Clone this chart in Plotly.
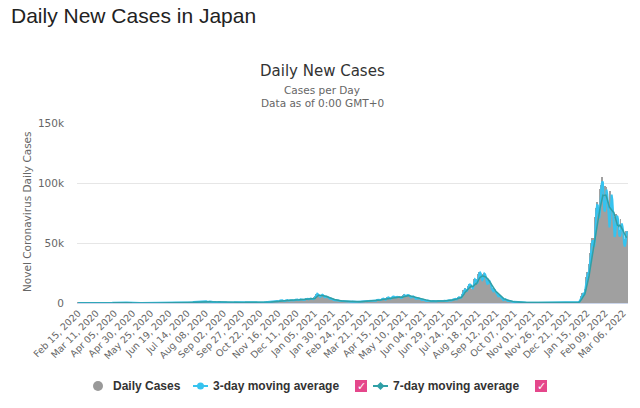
import pandas as pd
import plotly.graph_objects as go

# ---------------- data ----------------
start_date = "2020-02-15"
daily_cases = [
    # 2020 (weeks start on Saturday)
    6, 2, 7, 14, 7, 11, 12,
    27, 12, 2, 14, 20, 24, 27,
    9, 15, 14, 18, 33, 37, 59,
    47, 33, 30, 26, 52, 54, 41,
    64, 35, 15, 45, 44, 39, 35,
    53, 43, 38, 65, 94, 96, 123,
    200, 173, 87, 220, 266, 235, 351,
    367, 340, 250, 350, 515, 576, 708,
    720, 560, 390, 450, 549, 590, 585,
    570, 440, 370, 373, 390, 422, 440,
    340, 200, 189, 174, 236, 203, 167,
    280, 200, 120, 87, 110, 110, 84,
    110, 60, 50, 80, 60, 60, 55,
    30, 20, 20, 40, 30, 30, 30,
    26, 16, 20, 35, 35, 64, 40,
    50, 40, 40, 50, 40, 40, 40,
    40, 30, 20, 40, 40, 50, 40,
    50, 70, 40, 40, 40, 70, 60,
    50, 60, 60, 50, 80, 90, 100,
    100, 90, 80, 120, 110, 190, 250,
    270, 210, 150, 200, 210, 350, 430,
    390, 410, 260, 330, 450, 620, 590,
    660, 510, 420, 630, 800, 980, 770,
    840, 820, 600, 980, 1260, 1300, 1580,
    1540, 1330, 960, 1240, 1360, 1480, 1600,
    1560, 1440, 810, 820, 970, 1180, 1360,
    1230, 1040, 640, 890, 1070, 1030, 1020,
    850, 750, 500, 630, 890, 880, 850,
    750, 580, 440, 590, 670, 590, 630,
    570, 460, 280, 420, 510, 650, 650,
    580, 440, 270, 540, 600, 580, 590,
    600, 430, 290, 220, 290, 480, 520,
    600, 480, 300, 510, 580, 630, 560,
    580, 390, 270, 450, 610, 630, 680,
    620, 460, 280, 440, 610, 620, 630,
    600, 420, 300, 470, 600, 620, 720,
    740, 500, 460, 520, 700, 760, 800,
    870, 630, 480, 640, 950, 1050, 1140,
    1330, 1150, 1000, 1270, 1550, 1660, 1700,
    1730, 1440, 950, 1700, 2200, 2390, 2420,
    2500, 2100, 1500, 1230, 1950, 2500, 2500,
    2670, 2030, 1430, 2020, 2430, 2500, 2440,
    2500, 2060, 1500, 2300, 2800, 2800, 2990,
    3040, 2400, 1680, 2990, 3210, 3200, 2990,
    2990, 2500, 2000, 2850, 3260, 3700, 3800,
    3870, 2950, 2400, 3600, 4500, 3100, 3100,
    # 2021
    3100, 3100, 3300, 4900, 6000, 7500, 7900,
    7800, 6100, 4900, 4500, 5900, 6600, 7000,
    7000, 5700, 3900, 4900, 5600, 5500, 5000,
    4700, 3900, 2400, 3800, 3900, 3500, 3300,
    3100, 2600, 1800, 2300, 2600, 2600, 2300,
    2300, 1800, 1200, 1600, 1500, 1900, 1700,
    1300, 1500, 1000, 1000, 1500, 1300, 1300,
    1300, 1200, 800, 900, 1300, 1100, 1100,
    1000, 700, 1000, 1200, 1000, 1100, 1100,
    1100, 1100, 600, 1100, 1300, 1300, 1300,
    1300, 1000, 800, 1100, 1500, 1600, 1500,
    1500, 1100, 800, 1500, 1900, 2000, 2000,
    2000, 1800, 1100, 2000, 2600, 2800, 2800,
    2700, 2500, 1600, 2700, 3400, 3500, 3700,
    3700, 2800, 1900, 3400, 4300, 4600, 4500,
    4800, 3100, 2900, 4300, 5300, 5200, 5100,
    5600, 4600, 3300, 4900, 5800, 4700, 4700,
    5900, 4300, 4000, 4000, 4400, 6000, 6700,
    7200, 6000, 4900, 6100, 7000, 7000, 6300,
    6400, 5200, 3700, 4800, 5700, 5700, 5300,
    4700, 3800, 2600, 3800, 4000, 4100, 3700,
    3500, 2700, 1800, 2600, 3000, 2800, 2400,
    2400, 2000, 1200, 1700, 2300, 2000, 2000,
    1900, 1400, 1000, 1400, 1700, 1700, 1600,
    1600, 1300, 800, 1400, 1800, 1700, 1700,
    1700, 1500, 900, 1600, 1800, 1800, 1800,
    1900, 1700, 1000, 1700, 2200, 2300, 2200,
    2500, 2000, 1500, 2400, 3200, 3400, 3400,
    3900, 2900, 2300, 3700, 5000, 5400, 4200,
    4000, 4700, 4700, 7600, 9500, 10700, 10700,
    12300, 10100, 8400, 12000, 14200, 15200, 15700,
    15700, 14400, 12000, 9900, 13000, 18800, 20300,
    20100, 17400, 11400, 19900, 23900, 25000, 25900,
    25400, 22000, 13600, 21600, 24300, 24900, 24100,
    22700, 19200, 11000, 17500, 20000, 18300, 16800,
    16100, 12400, 7200, 10300, 12400, 10400, 9800,
    9400, 7200, 4200, 6000, 6800, 5700, 5100,
    4800, 3700, 2600, 1900, 2600, 3700, 3100,
    2600, 2000, 1100, 1700, 2000, 1600, 1400,
    1400, 1100, 600, 800, 1100, 900, 800,
    800, 600, 400, 400, 600, 600, 500,
    500, 400, 200, 400, 400, 400, 300,
    300, 300, 150, 300, 300, 300, 250,
    250, 200, 90, 200, 150, 200, 200,
    200, 160, 100, 150, 180, 200, 190,
    190, 130, 80, 110, 170, 150, 140,
    160, 110, 50, 80, 110, 80, 120,
    140, 110, 70, 110, 120, 130, 140,
    140, 110, 70, 100, 150, 150, 130,
    150, 140, 90, 150, 170, 180, 180,
    200, 190, 150, 180, 250, 260, 270,
    290, 240, 200, 380, 500, 430, 470,
    # 2022
    530, 550, 780, 1150, 2630, 4470, 6200,
    8470, 8250, 6440, 6380, 11380, 18860, 21900,
    25740, 25690, 22000, 32200, 41500, 46200, 49850,
    54570, 52600, 34000, 54000, 71600, 78900, 81800,
    84200, 78000, 55000, 79000, 94800, 98000, 100500,
    105000, 96400, 54000, 79000, 97800, 96700, 89000,
    86000, 75000, 47000, 67000, 93000, 90000, 88000,
    80000, 66000, 45000, 54000, 72000, 74000, 72000,
    70000, 66000, 39000, 61000, 70000, 66000, 63000,
    62000, 53000, 35000, 53000, 60000, 59000, 60000,
]

tick_dates = [
    "2020-02-15", "2020-03-11", "2020-04-05", "2020-04-30", "2020-05-25",
    "2020-06-19", "2020-07-14", "2020-08-08", "2020-09-02", "2020-09-27",
    "2020-10-22", "2020-11-16", "2020-12-11", "2021-01-05", "2021-01-30",
    "2021-02-24", "2021-03-21", "2021-04-15", "2021-05-10", "2021-06-04",
    "2021-06-29", "2021-07-24", "2021-08-18", "2021-09-12", "2021-10-07",
    "2021-11-01", "2021-11-26", "2021-12-21", "2022-01-15", "2022-02-09",
    "2022-03-06",
]
tick_labels = [
    "Feb 15, 2020", "Mar 11, 2020", "Apr 05, 2020", "Apr 30, 2020", "May 25, 2020",
    "Jun 19, 2020", "Jul 14, 2020", "Aug 08, 2020", "Sep 02, 2020", "Sep 27, 2020",
    "Oct 22, 2020", "Nov 16, 2020", "Dec 11, 2020", "Jan 05, 2021", "Jan 30, 2021",
    "Feb 24, 2021", "Mar 21, 2021", "Apr 15, 2021", "May 10, 2021", "Jun 04, 2021",
    "Jun 29, 2021", "Jul 24, 2021", "Aug 18, 2021", "Sep 12, 2021", "Oct 07, 2021",
    "Nov 01, 2021", "Nov 26, 2021", "Dec 21, 2021", "Jan 15, 2022", "Feb 09, 2022",
    "Mar 06, 2022",
]
y_tick_vals = [0, 50000, 100000, 150000]
y_tick_text = ["0", "50k", "100k", "150k"]

# ---------------- derived series ----------------
dates = pd.date_range(start_date, periods=len(daily_cases), freq="D")
s = pd.Series(daily_cases, index=dates, dtype=float)
ma3 = s.rolling(3, min_periods=1).mean()
ma7 = s.rolling(7, min_periods=1).mean()

C_BAR = "#a0a0a0"
C_MA3 = "#36c3ef"
C_MA7 = "#2f9fa6"
C_PINK = "#e5478b"

fig = go.Figure()
fig.add_trace(go.Bar(x=dates, y=s.values, marker=dict(color=C_BAR, line=dict(width=0)),
                     name="Daily Cases", showlegend=False))
fig.add_trace(go.Scatter(x=dates, y=ma3.values, mode="lines", line=dict(color=C_MA3, width=2),
                         name="3-day moving average", showlegend=False))
fig.add_trace(go.Scatter(x=dates, y=ma7.values, mode="lines", line=dict(color=C_MA7, width=1.5),
                         name="7-day moving average", showlegend=False))

# page coordinates of the plot area
W, H = 640, 408
L, R, T, B = 77, 628, 123, 303


def px(x):
    return (x - L) / (R - L)


def py(y):
    return (B - y) / (B - T)


shapes = []
annotations = []

# top page title
annotations.append(dict(text="Daily New Cases in Japan", xref="paper", yref="paper",
                        x=px(9), y=py(16), xanchor="left", yanchor="middle", showarrow=False,
                        font=dict(family="Liberation Sans, Arial", size=21, color="#222")))
# chart title / subtitles
annotations.append(dict(text="Daily New Cases", xref="paper", yref="paper",
                        x=px(322), y=py(71), xanchor="center", yanchor="middle", showarrow=False,
                        font=dict(family="DejaVu Sans", size=15, color="#333")))
annotations.append(dict(text="Cases per Day", xref="paper", yref="paper",
                        x=px(322), y=py(90), xanchor="center", yanchor="middle", showarrow=False,
                        font=dict(family="DejaVu Sans", size=10.5, color="#666")))
annotations.append(dict(text="Data as of 0:00 GMT+0", xref="paper", yref="paper",
                        x=px(322), y=py(103), xanchor="center", yanchor="middle", showarrow=False,
                        font=dict(family="DejaVu Sans", size=10.5, color="#666")))
# y-axis title
annotations.append(dict(text="Novel Coronavirus Daily Cases", xref="paper", yref="paper",
                        x=px(27), y=py(212), xanchor="center", yanchor="middle", showarrow=False,
                        textangle=-90,
                        font=dict(family="DejaVu Sans", size=10.5, color="#666")))

# ---------- legend (drawn) ----------
LY = 386
legend_font = dict(family="Liberation Sans, Arial", size=12, color="#333", weight="bold")
# Daily cases: grey circle
shapes.append(dict(type="circle", xref="paper", yref="paper",
                   x0=px(93), x1=px(103), y0=py(LY + 5), y1=py(LY - 5),
                   fillcolor="#999999", line=dict(width=0)))
annotations.append(dict(text="Daily Cases", xref="paper", yref="paper", x=px(111), y=py(LY),
                        xanchor="left", yanchor="middle", showarrow=False, font=legend_font))
# 3-day
shapes.append(dict(type="line", xref="paper", yref="paper", x0=px(193), x1=px(208),
                   y0=py(LY), y1=py(LY), line=dict(color=C_MA3, width=2)))
shapes.append(dict(type="circle", xref="paper", yref="paper",
                   x0=px(197), x1=px(204), y0=py(LY + 3.5), y1=py(LY - 3.5),
                   fillcolor=C_MA3, line=dict(width=0)))
annotations.append(dict(text="3-day moving average", xref="paper", yref="paper", x=px(211), y=py(LY),
                        xanchor="left", yanchor="middle", showarrow=False, font=legend_font))
# 7-day
shapes.append(dict(type="line", xref="paper", yref="paper", x0=px(373), x1=px(388),
                   y0=py(LY), y1=py(LY), line=dict(color=C_MA7, width=2)))
cx = 380.5
shapes.append(dict(type="path", xref="paper", yref="paper",
                   path=f"M {px(cx)} {py(LY - 4)} L {px(cx + 4)} {py(LY)} L {px(cx)} {py(LY + 4)} L {px(cx - 4)} {py(LY)} Z",
                   fillcolor=C_MA7, line=dict(width=0)))
annotations.append(dict(text="7-day moving average", xref="paper", yref="paper", x=px(391), y=py(LY),
                        xanchor="left", yanchor="middle", showarrow=False, font=legend_font))
# checkboxes
for bx in (355, 535):
    shapes.append(dict(type="rect", xref="paper", yref="paper",
                       x0=px(bx), x1=px(bx + 12), y0=py(LY + 6), y1=py(LY - 6),
                       fillcolor=C_PINK, line=dict(width=0)))
    annotations.append(dict(text="✓", xref="paper", yref="paper", x=px(bx + 6), y=py(LY),
                            xanchor="center", yanchor="middle", showarrow=False,
                            font=dict(family="DejaVu Sans", size=11, color="white", weight="bold")))

fig.update_layout(
    width=W, height=H,
    margin=dict(l=L, r=W - R, t=T, b=H - B, pad=0),
    paper_bgcolor="white", plot_bgcolor="white",
    bargap=0,
    showlegend=False,
    shapes=shapes,
    annotations=annotations,
    xaxis=dict(
        type="date",
        range=["2020-02-13 12:00", "2022-03-12 12:00"],
        tickvals=tick_dates, ticktext=tick_labels, tickangle=-45,
        tickfont=dict(family="DejaVu Sans", size=9.5, color="#666"),
        showgrid=False, showline=True, linecolor="#ccd6eb", ticks="",
        zeroline=False,
    ),
    yaxis=dict(
        range=[0, 150000],
        tickvals=y_tick_vals, ticktext=y_tick_text,
        tickfont=dict(family="DejaVu Sans", size=10.5, color="#666"),
        showgrid=True, gridcolor="#e6e6e6", gridwidth=1,
        zeroline=False, ticks="", ticklabelstandoff=12,
    ),
)

# remove the default page margin so the 640x408 figure fills the window exactly
fig.write_html("out.html", config={"displayModeBar": False},
               post_script="document.body.style.margin='0px';")
